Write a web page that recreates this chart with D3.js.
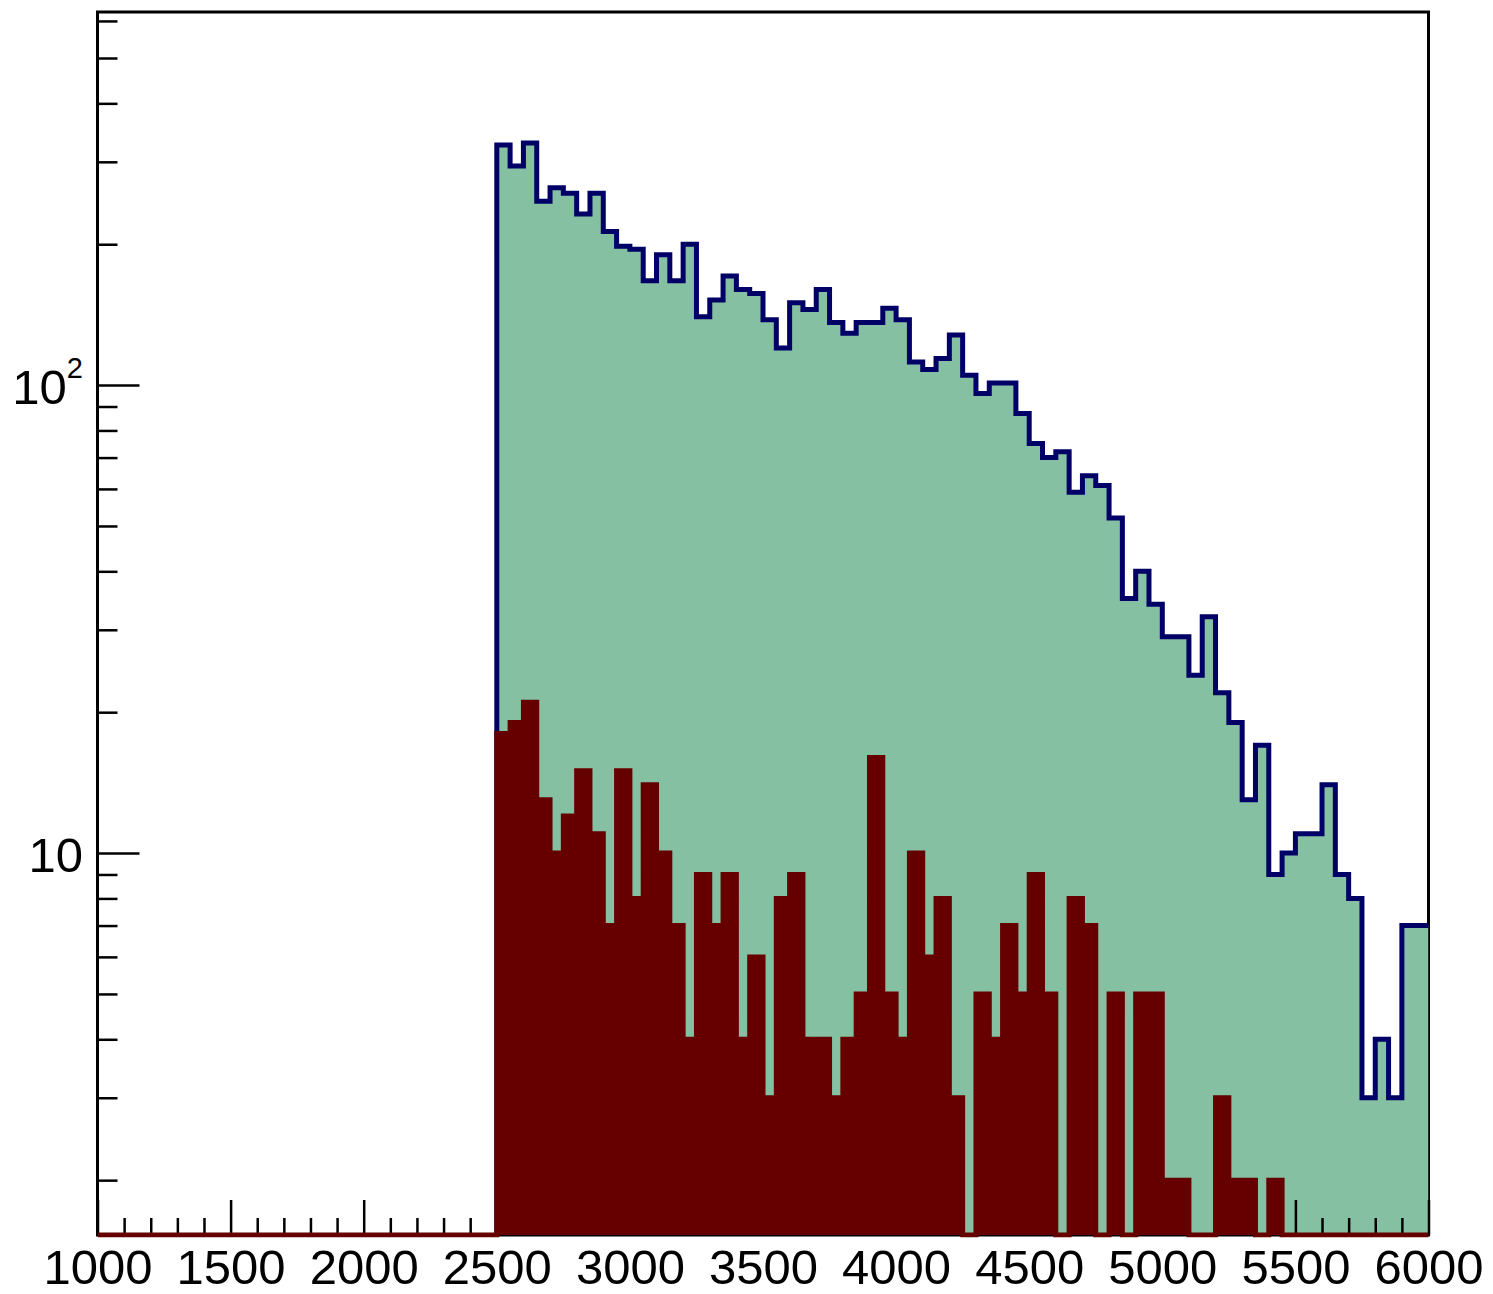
<!DOCTYPE html>
<html>
<head>
<meta charset="utf-8">
<script src="https://cdn.jsdelivr.net/npm/d3@7"></script>
<style>
  body { margin: 0; background: #fff; }
  svg { display: block; }
  text { font-family: "Liberation Sans", Arial, Helvetica, sans-serif; fill: #000; }
</style>
</head>
<body>
<div id="chart"></div>
<script>
// histogram binning: 70 bins of 50 from 2500 to 6000
const binStart = 2500;
const binWidth = 50;

// total (green, blue outline)
const totalCounts = [
  326, 294, 329, 247, 264, 257, 232, 257, 213, 198,
  195, 167, 190, 167, 200, 140, 152, 171, 160, 157,
  138, 120, 150, 145, 160, 136, 129, 136, 136, 146,
  138, 112, 108, 114, 128, 105, 96, 101, 101, 87,
  75, 70, 72, 59, 64, 61, 52, 35, 40, 34,
  29, 29, 24, 32, 22, 19, 13, 17, 9, 10,
  11, 11, 14, 9, 8, 3, 4, 3, 7, 7
];

// subset (dark red)
const subCounts = [
  18, 19, 21, 13, 10, 12, 15, 11, 7, 15,
  8, 14, 10, 7, 4, 9, 7, 9, 4, 6,
  3, 8, 9, 4, 4, 3, 4, 5, 16, 5,
  4, 10, 6, 8, 3, 0, 5, 4, 7, 5,
  9, 5, 0, 8, 7, 0, 5, 0, 5, 5,
  2, 2, 0, 0, 3, 2, 2, 0, 2, 0,
  0, 0, 0, 0, 0, 0, 0, 0, 0, 0
];

const xDomain = [1000, 6000];
const yDomain = [1.527, 627];
const xMajorTicks = [1000, 1500, 2000, 2500, 3000, 3500, 4000, 4500, 5000, 5500, 6000];
const xMinorTicks = d3.range(1000, 6001, 100).filter(v => v % 500 !== 0);
const yMajorTicks = [10, 100];
const yMajorBase = ["10", "10"];
const yMajorExp = ["", "2"];
const yMinorTicks = [2, 3, 4, 5, 6, 7, 8, 9, 20, 30, 40, 50, 60, 70, 80, 90, 200, 300, 400, 500, 600];

const width = 1493, height = 1294;
const margin = {top: 12, right: 64.5, bottom: 59, left: 97.5};

const colFill = "#85c0a2";
const colLine = "#000066";
const colSub = "#660000";

const svg = d3.select("#chart").append("svg")
  .attr("width", width)
  .attr("height", height);

const x = d3.scaleLinear().domain(xDomain).range([margin.left, width - margin.right]);
const y = d3.scaleLog().domain(yDomain).range([height - margin.bottom, margin.top]);
const yBase = y.range()[0];

svg.append("defs").append("clipPath").attr("id", "plotclip")
  .append("rect")
    .attr("x", x.range()[0])
    .attr("y", y.range()[1])
    .attr("width", x.range()[1] - x.range()[0])
    .attr("height", yBase - y.range()[1] + 2.5);

// frame
svg.append("rect")
  .attr("x", x.range()[0])
  .attr("y", y.range()[1])
  .attr("width", x.range()[1] - x.range()[0])
  .attr("height", yBase - y.range()[1])
  .attr("fill", "none")
  .attr("stroke", "#000")
  .attr("stroke-width", 3);

function yv(v) {
  return v > 0 ? y(Math.max(v, yDomain[0])) : yBase;
}

function stepPoints(counts) {
  const pts = [];
  counts.forEach((c, i) => {
    const lo = binStart + i * binWidth;
    pts.push([x(lo), yv(c)]);
    pts.push([x(lo + binWidth), yv(c)]);
  });
  return pts;
}

const line = d3.line();
const binEnd = binStart + totalCounts.length * binWidth;

const back = svg.append("g").attr("clip-path", "url(#plotclip)");

// total histogram: fill then outline
const totPts = stepPoints(totalCounts);
back.append("path")
  .attr("d", line([[x(binStart), yBase], ...totPts, [x(binEnd), yBase]]) + "Z")
  .attr("fill", colFill)
  .attr("stroke", "none");

back.append("path")
  .attr("d", line([[x(binStart), yBase], ...totPts]))
  .attr("fill", "none")
  .attr("stroke", colLine)
  .attr("stroke-width", 5)
  .attr("stroke-linejoin", "miter");

// axes
const tickW = 2.5;
const fontSize = 49;

const xMinor = svg.append("g")
  .attr("transform", `translate(0,${yBase})`)
  .call(d3.axisBottom(x).tickValues(xMinorTicks).tickSizeInner(-17).tickSizeOuter(0).tickFormat(""));
const xMajor = svg.append("g")
  .attr("transform", `translate(0,${yBase})`)
  .call(d3.axisBottom(x).tickValues(xMajorTicks).tickSizeInner(-35).tickSizeOuter(0).tickPadding(14).tickFormat(d3.format("d")));

const yMinor = svg.append("g")
  .attr("transform", `translate(${x.range()[0]},0)`)
  .call(d3.axisLeft(y).tickValues(yMinorTicks).tickSizeInner(-20).tickSizeOuter(0).tickFormat(""));
const yMajor = svg.append("g")
  .attr("transform", `translate(${x.range()[0]},0)`)
  .call(d3.axisLeft(y).tickValues(yMajorTicks).tickSizeInner(-42).tickSizeOuter(0).tickPadding(14.5)
    .tickFormat((d, i) => yMajorBase[i]));

yMajor.selectAll(".tick text")
  .attr("dy", "0.38em")
  .each(function(d, i) {
    if (yMajorExp[i]) {
      d3.select(this).append("tspan")
        .attr("font-size", 29)
        .attr("dy", "-0.9em")
        .text(yMajorExp[i]);
    }
  });

[xMinor, xMajor, yMinor, yMajor].forEach(g => {
  g.select(".domain").remove();
  g.selectAll(".tick line").attr("stroke", "#000").attr("stroke-width", tickW);
  g.selectAll(".tick text")
    .attr("fill", "#000")
    .attr("font-size", fontSize)
    .attr("font-family", "'Liberation Sans', Arial, Helvetica, sans-serif");
});

// subset histogram on top of the ticks (filled, same-colour thick outline)
const front = svg.append("g").attr("clip-path", "url(#plotclip)");
const subPts = stepPoints(subCounts);
front.append("path")
  .attr("d", line([[x(xDomain[0]), yBase], [x(binStart), yBase], ...subPts, [x(xDomain[1]), yBase]]))
  .attr("fill", colSub)
  .attr("stroke", colSub)
  .attr("stroke-width", 5)
  .attr("stroke-linejoin", "miter");
</script>
</body>
</html>
